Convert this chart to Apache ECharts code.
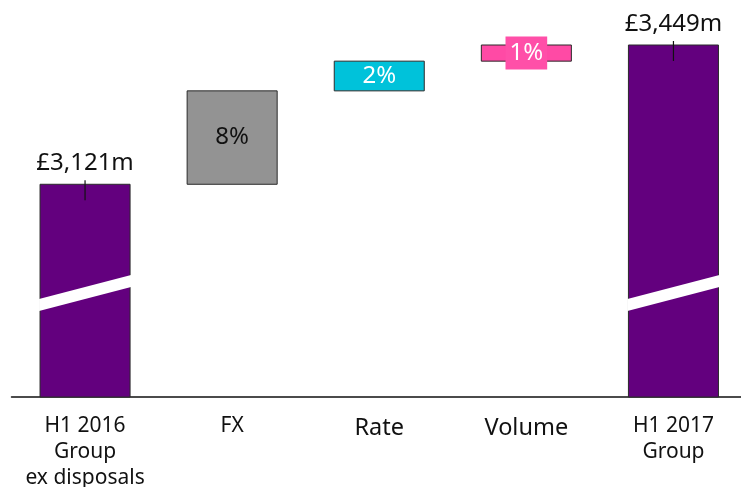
<!DOCTYPE html>
<html>
<head>
<meta charset="utf-8">
<script src="https://cdn.jsdelivr.net/npm/echarts@6/dist/echarts.min.js"></script>
<style>
  html, body { margin: 0; padding: 0; background: #fff; }
  #chart { width: 741px; height: 487px; }
</style>
</head>
<body>
<div id="chart"></div>
<script>
// Revenue bridge, £m
const categories = ['H1 2016\nGroup\nex disposals', 'FX', 'Rate', 'Volume', 'H1 2017\nGroup'];
const totals = [3121, null, null, null, 3449];
const deltas = [null, 220, 70, 38, null];
const totalLabels = ['£3,121m', '', '', '', '£3,449m'];
const deltaLabels = ['', '8%', '2%', '1%', ''];
const barColors = ['#63007E', '#939393', '#00C2DA', '#FF4AA5', '#63007E'];

// value axis range (broken axis: the scale starts well above zero)
const axisMin = 2620;
const axisMax = 3555;
const breakValue = 2865;

// floating segments: [index, low, high]
const segments = [];
let running = 0;
categories.forEach((c, i) => {
  if (totals[i] != null) {
    segments.push([i, axisMin, totals[i]]);
    running = totals[i];
  } else {
    segments.push([i, running, running + deltas[i]]);
    running += deltas[i];
  }
});

const font = '"Noto Sans", "DejaVu Sans", sans-serif';

function renderItem(params, api) {
  const i = api.value(0);
  const low = api.value(1);
  const high = api.value(2);
  const pTop = api.coord([i, high]);
  const pBot = api.coord([i, low]);
  const bw = api.size([1, 0])[0] * 0.612;
  const x0 = pTop[0] - bw / 2;
  const x1 = pTop[0] + bw / 2;
  const children = [{
    type: 'rect',
    shape: { x: x0, y: pTop[1], width: bw, height: pBot[1] - pTop[1] },
    style: { fill: barColors[i], stroke: '#2a2a2a', lineWidth: 1 }
  }];
  if (totals[i] != null) {
    // diagonal break stripe
    const yb = api.coord([i, breakValue])[1];
    children.push({
      type: 'polygon',
      shape: { points: [[x0 - 1, yb + 6], [x1 + 1, yb - 18], [x1 + 1, yb - 6], [x0 - 1, yb + 18]] },
      style: { fill: '#ffffff' }
    });
    // leader tick from label into bar
    children.push({
      type: 'line',
      shape: { x1: pTop[0], y1: pTop[1] - 4, x2: pTop[0], y2: pTop[1] + 16 },
      style: { stroke: '#111', lineWidth: 1.2 }
    });
    children.push({
      type: 'text',
      style: {
        text: totalLabels[i], x: pTop[0], y: pTop[1] - 21,
        align: 'center', verticalAlign: 'middle',
        fill: '#111', font: '24px ' + font
      }
    });
  } else {
    const cy = (pTop[1] + pBot[1]) / 2;
    const isSmall = (pBot[1] - pTop[1]) < 22;
    children.push({
      type: 'text',
      style: {
        text: deltaLabels[i], x: pTop[0], y: cy,
        align: 'center', verticalAlign: 'middle',
        fill: i === 1 ? '#111' : '#ffffff',
        font: '24px ' + font,
        backgroundColor: isSmall ? '#FF4FA8' : null,
        padding: isSmall ? [5, 4, 4, 4] : 0
      }
    });
  }
  return { type: 'group', children: children };
}

const chart = echarts.init(document.getElementById('chart'), null, { renderer: 'canvas' });
chart.setOption({
  animation: false,
  grid: { left: 11.5, right: -6, top: 0, bottom: 90, outerBoundsMode: 'none', containLabel: false },
  xAxis: {
    type: 'category',
    data: categories,
    axisLine: { lineStyle: { color: '#111', width: 1.5 } },
    axisTick: { show: false },
    axisLabel: {
      interval: 0,
      margin: 16,
      color: '#111',
      fontFamily: font,
      fontSize: 21,
      lineHeight: 26,
      formatter: v => (v === 'Rate' || v === 'Volume') ? '{big|' + v + '}' : v,
      rich: { big: { fontSize: 23.5, fontFamily: font, color: '#111', lineHeight: 26, padding: [4, 0, 0, 0] } }
    }
  },
  yAxis: {
    type: 'value',
    min: axisMin,
    max: axisMax,
    show: false,
    splitLine: { show: false }
  },
  series: [{
    type: 'custom',
    renderItem: renderItem,
    data: segments,
    encode: { x: 0, y: [1, 2] }
  }]
});
</script>
</body>
</html>
